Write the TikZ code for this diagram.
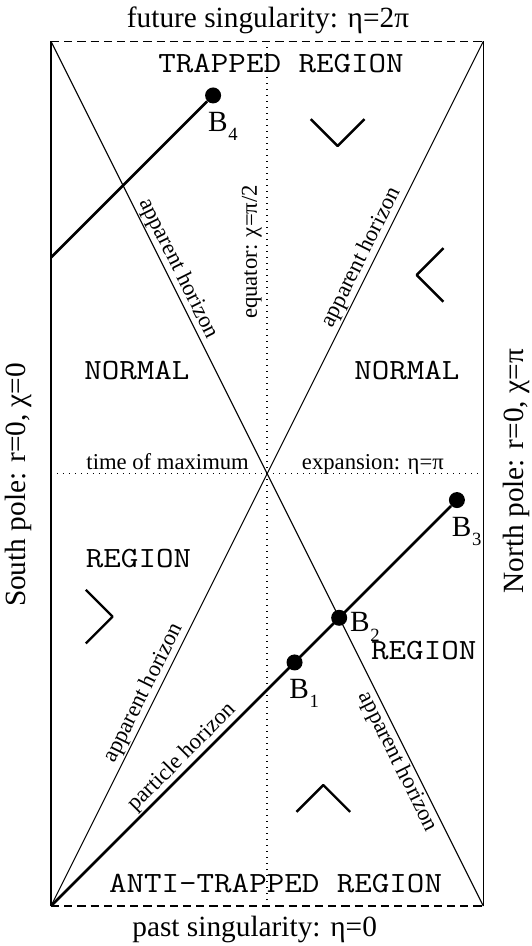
\documentclass[tikz,border=0pt]{standalone}
\usepackage{fontspec}
\setmainfont{Liberation Serif}
\usepackage{graphicx}

% B with a lowered index
\newcommand{\bsub}[2]{#1\kern0.5pt\raisebox{-7pt}{\fontsize{14}{14}\selectfont #2}}
% courier-like region text
\newcommand{\regtxt}[1]{\scalebox{1.16}[1]{#1}}

\begin{document}
\begin{tikzpicture}[line join=round,x=3.627cm,y=3.627cm,
  pole/.style={line width=1pt},
  singular/.style={line width=0.8pt,dash pattern=on 6.2pt off 3.7pt},
  grid line/.style={line width=1pt,dash pattern=on 1pt off 3.5pt},
  horizon/.style={line width=0.8pt},
  particle/.style={line width=2pt},
  cone/.style={line width=1.8pt},
  dot/.style={circle,fill=black,inner sep=0pt,minimum size=12pt},
  big/.style={font=\fontsize{22}{26}\selectfont,inner sep=0pt},
  small/.style={font=\fontsize{17}{20}\selectfont,inner sep=1pt},
  region/.style={font=\fontsize{22}{26}\selectfont\ttfamily,inner sep=0pt},
  blabel/.style={big,anchor=north west,xshift=-4pt,yshift=-12.5pt}]
\useasboundingbox (-0.3706,-0.2907) rectangle (3.4956,6.5843);
\coordinate (SW) at (0,0);
\coordinate (SE) at (pi,0);
\coordinate (NE) at (pi,2*pi);
\coordinate (NW) at (0,2*pi);
\coordinate (EqS) at (pi/2,0);
\coordinate (EqN) at (pi/2,2*pi);
\coordinate (MaxW) at (0,pi);
\coordinate (MaxE) at (pi,pi);
\coordinate (C) at (0,3*pi/2);
% boundary of the diagram
\draw[pole] (SW) -- (NW);
\draw[pole] (SE) -- (NE);
\draw[singular] (NW) -- (NE);
\draw[singular] (SW) -- (SE);
\draw[grid line] (EqS) -- (EqN);
\draw[grid line] (MaxW) -- (MaxE);
% apparent horizons
\draw[horizon] (NW) -- node[small,sloped,above,pos=0.269] {apparent horizon}
  node[small,sloped,below,pos=0.827] {apparent horizon} (SE);
\draw[horizon] (SW) -- node[small,sloped,above,pos=0.240] {apparent horizon}
  node[small,sloped,above,pos=0.744] {apparent horizon} (NE);
% events
\foreach \n/\c in {1/1.77,2/2.0944,3/2.95}
  \node[dot] (B\n) at (\c,\c) {};
\node[dot] (B4) at (1.1781,5.8905) {};
\foreach \n in {1,3,4}
  \node[blabel] (L\n) at (B\n.center) {\bsub{B}{\n}};
\node[big,anchor=north west,xshift=8pt,yshift=4pt] (L2) at (B2.center) {\bsub{B}{2}};
% particle horizons
\draw[particle] (SW) -- node[small,sloped,above,pos=0.35,inner sep=0.5pt] {particle horizon} (B3);
\draw[particle] (C) -- (B4);
% light cone wedges
\foreach \x/\y/\a in {2.083/5.523/0,2.657/4.586/-90,0.448/2.103/90,1.979/0.879/180}
  \draw[cone,shift={(\x,\y)},rotate=\a] (-0.195,0.195) -- (0,0) -- (0.195,0.195);
% regions
\node[region,anchor=base] (trap) at (1.672,6.061) {\regtxt{TRAPPED REGION}};
\node[region,anchor=base] (anti) at (1.632,0.095) {\regtxt{ANTI-TRAPPED REGION}};
\node[region,anchor=base] (norL) at (0.624,3.828) {\regtxt{NORMAL}};
\node[region,anchor=base] (norR) at (2.586,3.828) {\regtxt{NORMAL}};
\node[region,anchor=base] (regL) at (0.636,2.46) {\regtxt{REGION}};
\node[region,anchor=base] (regR) at (2.709,1.788) {\regtxt{REGION}};
% texts round the diagram
\node[big,anchor=base] (fut) at (1.577,6.388) {future singularity: η=2π};
\node[big,anchor=base] (past) at (1.48,-0.225) {past singularity: η=0};
\node[big,rotate=90] (south) at (-0.233,3.06) {South pole: r=0, χ=0};
\node[big,rotate=90] (north) at (3.379,3.16) {North pole: r=0, χ=π};
\node[small,rotate=90,inner sep=0pt] (equ) at (1.459,4.753) {equator: χ=π/2};
\node[small,anchor=base east,inner sep=0pt] (tmax) at (1.44,3.171) {time of maximum};
\node[small,anchor=base west,inner sep=0pt] (expa) at (1.822,3.171) {expansion: η=π};
\end{tikzpicture}
\end{document}
